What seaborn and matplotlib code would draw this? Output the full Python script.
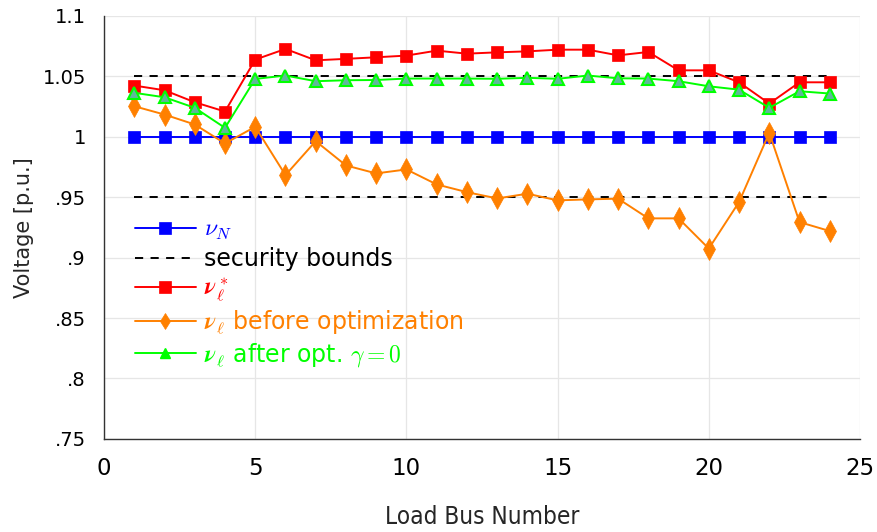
import matplotlib
matplotlib.use("Agg")
import matplotlib.pyplot as plt
import seaborn as sns
import pandas as pd
from matplotlib.ticker import FixedLocator

# ---------------- data ----------------
buses = list(range(1, 25))
v_nominal = [1.0] * 24
v_star = [1.0424, 1.0385, 1.0286, 1.0209, 1.0639, 1.0727, 1.0633, 1.0645,
          1.0658, 1.0672, 1.0713, 1.0688, 1.0699, 1.0707, 1.0721, 1.0721,
          1.0674, 1.0702, 1.0550, 1.0550, 1.0451, 1.0275, 1.0451, 1.0451]
v_before = [1.0253, 1.0184, 1.0102, 0.9945, 1.0083, 0.9683, 0.9964, 0.9763,
            0.9697, 0.9730, 0.9606, 0.9542, 0.9490, 0.9529, 0.9474, 0.9482,
            0.9488, 0.9325, 0.9325, 0.9075, 0.9460, 1.0033, 0.9294, 0.9220]
v_after = [1.0364, 1.0327, 1.0240, 1.0074, 1.0479, 1.0507, 1.0460, 1.0468,
           1.0470, 1.0482, 1.0482, 1.0482, 1.0480, 1.0488, 1.0480, 1.0507,
           1.0484, 1.0482, 1.0460, 1.0418, 1.0390, 1.0240, 1.0377, 1.0358]
bound_upper = [1.05] * 24
bound_lower = [0.95] * 24

xticks = [0, 5, 10, 15, 20, 25]
yticks = [0.75, 0.8, 0.85, 0.9, 0.95, 1.0, 1.05, 1.1]
ytick_labels = [".75", ".8", ".85", ".9", ".95", "1", "1.05", "1.1"]

labels = [r"$\nu_N$", "security bounds", r"$\boldsymbol{\nu}_\ell^*$",
          r"$\boldsymbol{\nu}_\ell$ before optimization",
          r"$\boldsymbol{\nu}_\ell$ after opt. $\gamma = 0$"]

# ---------------- style ----------------
sns.set_style("whitegrid")
plt.rcParams["font.family"] = ["DejaVu Sans"]
plt.rcParams["mathtext.fontset"] = "cm"

fig = plt.figure(figsize=(8.78, 5.32), dpi=100)
ax = fig.add_axes([0.1185, 0.175, 0.861, 0.795])

df = pd.DataFrame({"bus": buses, "nom": v_nominal, "star": v_star,
                   "before": v_before, "after": v_after,
                   "up": bound_upper, "lo": bound_lower})

BLUE, RED, ORANGE, GREEN = "#0000ff", "#ff0000", "#ff8000", "#00ff00"
DASH = (0, (4.2, 3.8))

sns.lineplot(data=df, x="bus", y="nom", ax=ax, color=BLUE, lw=1.4,
             marker="s", ms=8.5, mec=BLUE, mfc=BLUE, mew=0.5, label=labels[0])
sns.lineplot(data=df, x="bus", y="up", ax=ax, color="black", lw=1.4,
             ls=DASH, label=labels[1])
sns.lineplot(data=df, x="bus", y="lo", ax=ax, color="black", lw=1.4,
             ls=DASH, label="_nolegend_")
sns.lineplot(data=df, x="bus", y="star", ax=ax, color=RED, lw=1.4,
             marker="s", ms=8.5, mec=RED, mfc=RED, mew=0.5, label=labels[2])
sns.lineplot(data=df, x="bus", y="before", ax=ax, color=ORANGE, lw=1.4,
             marker="d", ms=11, mec=ORANGE, mfc=ORANGE, mew=0.5, label=labels[3])
sns.lineplot(data=df, x="bus", y="after", ax=ax, color=GREEN, lw=1.4,
             marker="^", ms=9, mec=GREEN, mfc="#5fb89a", mew=1.5, label=labels[4])

ax.set_xlim(0, 25)
ax.set_ylim(0.75, 1.1)
ax.xaxis.set_major_locator(FixedLocator(xticks))
ax.set_xticklabels([str(t) for t in xticks])
ax.yaxis.set_major_locator(FixedLocator(yticks))
ax.set_yticklabels(ytick_labels)

ax.grid(True, color="#e6e6e6", lw=0.9)
for s in ["top", "right"]:
    ax.spines[s].set_visible(False)
for s in ["left", "bottom"]:
    ax.spines[s].set_color("#333333")
    ax.spines[s].set_linewidth(1.0)
ax.tick_params(axis="both", direction="inout", length=8, width=1.0,
               color="#333333", labelcolor="black")
ax.tick_params(axis="y", pad=9, labelsize=14)
ax.tick_params(axis="x", pad=9, labelsize=16.5)

ax.set_xlabel("Load Bus Number", fontsize=17.5, labelpad=18,
              fontstretch="condensed")
ax.set_ylabel("Voltage [p.u.]", fontsize=15, labelpad=6)

handles, labs = ax.get_legend_handles_labels()
leg = ax.legend(handles, labs, loc="upper left", bbox_to_anchor=(0.028, 0.546),
                frameon=False, fontsize=17, handlelength=2.6,
                handletextpad=0.35, labelspacing=0.2, borderaxespad=0)
for txt, c in zip(leg.get_texts(), [BLUE, "black", RED, ORANGE, GREEN]):
    txt.set_color(c)
lh = leg.legend_handles
lh[0].set_markersize(9)
lh[2].set_markersize(9)
lh[3].set_markersize(8)
lh[4].set_markersize(7)
lh[4].set_markeredgewidth(1.0)
lh[4].set_markerfacecolor(GREEN)

fig.savefig("out.png", dpi=100)
